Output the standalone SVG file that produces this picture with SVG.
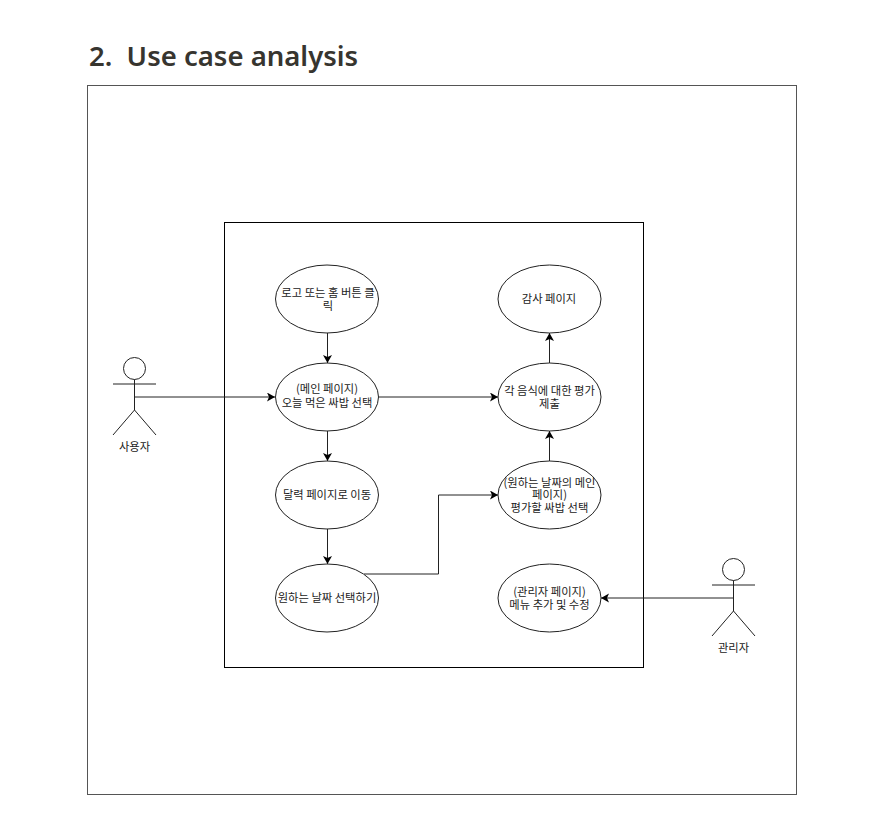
<svg xmlns="http://www.w3.org/2000/svg" width="878" height="820" viewBox="0 0 878 820">
<style>
.title{font-family:"Noto Sans","Noto Sans CJK KR",sans-serif;font-size:27.5px;font-weight:600;fill:#37352f}
.t{font-family:"Noto Sans CJK KR","Noto Sans",sans-serif;font-size:11.3px;fill:#222;text-anchor:middle}
.e{fill:#fff;stroke:#222;stroke-width:1}
.f{fill:none;stroke:#222;stroke-width:1}
</style>
<defs><marker id="arr" markerUnits="userSpaceOnUse" markerWidth="10" markerHeight="10" refX="8" refY="4.5" orient="auto"><path d="M0 0L8 4.5L0 9L2 4.5Z" fill="#000"/></marker></defs>
<rect width="878" height="820" fill="#fff"/>
<text class="title" x="89" y="66" xml:space="preserve">2.  Use case analysis</text>
<rect x="87.5" y="85.5" width="709" height="709" fill="#fff" stroke="#555"/>
<rect id="system" x="224.5" y="222.5" width="419" height="445" fill="none" stroke="#000"/>
<g id="connectors">
<path class="f" marker-end="url(#arr)" d="M327.5 333V363"/>
<path class="f" marker-end="url(#arr)" d="M134 397H275"/>
<path class="f" marker-end="url(#arr)" d="M379 397H498"/>
<path class="f" marker-end="url(#arr)" d="M327.5 431V461"/>
<path class="f" marker-end="url(#arr)" d="M327.5 529V564"/>
<path class="f" marker-end="url(#arr)" d="M364 574H438.5V495H498"/>
<path class="f" marker-end="url(#arr)" d="M549.5 461V431"/>
<path class="f" marker-end="url(#arr)" d="M549.5 363V333"/>
<path class="f" marker-end="url(#arr)" d="M734 598H601"/>
</g>
<g id="n1"><ellipse class="e" cx="327" cy="299" rx="51.5" ry="34"/><text class="t" x="328" y="296.5">로고 또는 홈 버튼 클</text><text class="t" x="328" y="310">릭</text></g>
<g id="n2"><ellipse class="e" cx="327" cy="397" rx="51.5" ry="34"/><text class="t" x="327" y="393">(메인 페이지)</text><text class="t" x="327" y="406.5">오늘 먹은 싸밥 선택</text></g>
<g id="n3"><ellipse class="e" cx="327" cy="495" rx="51.5" ry="34"/><text class="t" x="327" y="498.5">달력 페이지로 이동</text></g>
<g id="n4"><ellipse class="e" cx="327" cy="598" rx="51.5" ry="34"/><text class="t" x="327" y="601.5">원하는 날짜 선택하기</text></g>
<g id="n5"><ellipse class="e" cx="549.5" cy="299" rx="51.5" ry="34"/><text class="t" x="549" y="302.5">감사 페이지</text></g>
<g id="n6"><ellipse class="e" cx="549.5" cy="397" rx="51.5" ry="34"/><text class="t" x="549.5" y="395">각 음식에 대한 평가</text><text class="t" x="549.5" y="407.5">제출</text></g>
<g id="n7"><ellipse class="e" cx="549.5" cy="495" rx="51.5" ry="34"/><text class="t" x="549.5" y="487">(원하는 날짜의 메인</text><text class="t" x="549.5" y="499">페이지)</text><text class="t" x="549.5" y="511.5">평가할 싸밥 선택</text></g>
<g id="n8"><ellipse class="e" cx="549.5" cy="598" rx="51.5" ry="34"/><text class="t" x="549.5" y="596">(관리자 페이지)</text><text class="t" x="549.5" y="608.5">메뉴 추가 및 수정</text></g>
<g id="actor1"><circle class="e" cx="134.5" cy="368.5" r="11"/><path class="f" d="M134.5 379.5V410M113 384H156M134.5 410L113 435M134.5 410L156 435"/><text class="t" x="134.5" y="450.5">사용자</text></g>
<g id="actor2"><circle class="e" cx="733.5" cy="569.5" r="11"/><path class="f" d="M733.5 580.5V611M712 585H755M733.5 611L712 636M733.5 611L755 636"/><text class="t" x="733.5" y="651.5">관리자</text></g>
</svg>
